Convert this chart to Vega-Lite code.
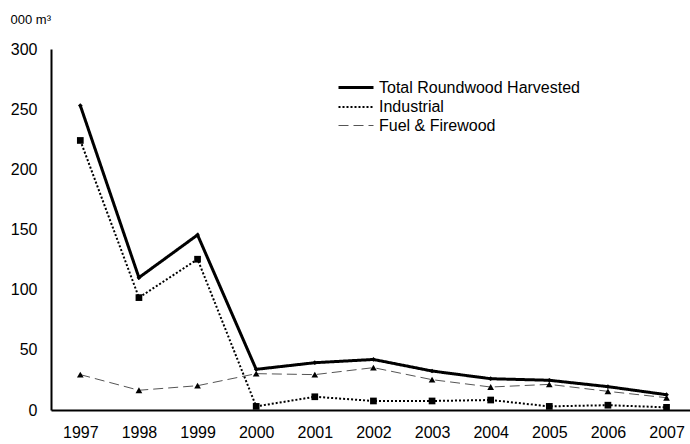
{
  "$schema": "https://vega.github.io/schema/vega-lite/v6.json",
  "width": 639,
  "height": 361,
  "autosize": {"type": "none"},
  "padding": {"left": 51, "top": 49, "right": 0, "bottom": 34},
  "background": "white",
  "config": {
    "font": "Liberation Sans",
    "view": {"stroke": null},
    "axis": {"grid": false, "ticks": false, "domainColor": "black", "domainWidth": 2, "labelColor": "black", "labelFont": "Liberation Sans"}
  },
  "data": {
    "values": [
      {"year": 1997, "series": "Total Roundwood Harvested", "value": 253},
      {"year": 1998, "series": "Total Roundwood Harvested", "value": 110},
      {"year": 1999, "series": "Total Roundwood Harvested", "value": 145.5},
      {"year": 2000, "series": "Total Roundwood Harvested", "value": 33.8},
      {"year": 2001, "series": "Total Roundwood Harvested", "value": 39.3},
      {"year": 2002, "series": "Total Roundwood Harvested", "value": 42},
      {"year": 2003, "series": "Total Roundwood Harvested", "value": 32.4},
      {"year": 2004, "series": "Total Roundwood Harvested", "value": 26},
      {"year": 2005, "series": "Total Roundwood Harvested", "value": 24.7},
      {"year": 2006, "series": "Total Roundwood Harvested", "value": 19.4},
      {"year": 2007, "series": "Total Roundwood Harvested", "value": 12.7},
      {"year": 1997, "series": "Industrial", "value": 224},
      {"year": 1998, "series": "Industrial", "value": 93.4},
      {"year": 1999, "series": "Industrial", "value": 125.3},
      {"year": 2000, "series": "Industrial", "value": 3},
      {"year": 2001, "series": "Industrial", "value": 11},
      {"year": 2002, "series": "Industrial", "value": 7.5},
      {"year": 2003, "series": "Industrial", "value": 7.5},
      {"year": 2004, "series": "Industrial", "value": 8.3},
      {"year": 2005, "series": "Industrial", "value": 3},
      {"year": 2006, "series": "Industrial", "value": 4},
      {"year": 2007, "series": "Industrial", "value": 2.2},
      {"year": 1997, "series": "Fuel & Firewood", "value": 29.4},
      {"year": 1998, "series": "Fuel & Firewood", "value": 16.4},
      {"year": 1999, "series": "Fuel & Firewood", "value": 20.2},
      {"year": 2000, "series": "Fuel & Firewood", "value": 30.2},
      {"year": 2001, "series": "Fuel & Firewood", "value": 29.4},
      {"year": 2002, "series": "Fuel & Firewood", "value": 35.2},
      {"year": 2003, "series": "Fuel & Firewood", "value": 25.2},
      {"year": 2004, "series": "Fuel & Firewood", "value": 19.1},
      {"year": 2005, "series": "Fuel & Firewood", "value": 21.3},
      {"year": 2006, "series": "Fuel & Firewood", "value": 15.5},
      {"year": 2007, "series": "Fuel & Firewood", "value": 10.2}
    ]
  },
  "encoding": {
    "x": {
      "field": "year", "type": "quantitative",
      "scale": {"domain": [1996.5, 2007.4], "nice": false, "zero": false},
      "axis": {"values": [1997,1998,1999,2000,2001,2002,2003,2004,2005,2006,2007], "format": "d", "title": null, "labelFontSize": 16, "labelPadding": 14, "labelFlush": false}
    },
    "y": {
      "field": "value", "type": "quantitative",
      "scale": {"domain": [0, 300], "nice": false},
      "axis": {"values": [0,50,100,150,200,250,300], "title": "000 m³", "titleAngle": 0, "titleAlign": "left", "titleBaseline": "alphabetic", "titleX": -41, "titleY": -26, "titleFontSize": 13, "titleFontWeight": "normal", "titleColor": "black", "labelFontSize": 16, "labelPadding": 14}
    }
  },
  "layer": [
    {
      "mark": {"type": "line"},
      "encoding": {
        "detail": {"field": "series"},
        "color": {
          "field": "series", "type": "nominal",
          "scale": {"domain": ["Total Roundwood Harvested", "Industrial", "Fuel & Firewood"], "range": ["black", "black", "#555555"]},
          "legend": {"orient": "none", "legendX": 293.5, "legendY": 27, "title": null, "labelFontSize": 16, "labelColor": "black", "labelLimit": 400, "symbolType": "M-1.75,0L1.75,0", "symbolSize": 400, "rowPadding": -4.5, "labelOffset": 11.5}
        },
        "strokeDash": {
          "field": "series", "type": "nominal",
          "scale": {"domain": ["Total Roundwood Harvested", "Industrial", "Fuel & Firewood"], "range": [[1, 0], [2, 2], [10, 5]]}
        },
        "strokeWidth": {
          "field": "series", "type": "nominal",
          "scale": {"domain": ["Total Roundwood Harvested", "Industrial", "Fuel & Firewood"], "range": [3, 1, 1]}
        }
      }
    },
    {
      "transform": [{"filter": "datum.series === 'Total Roundwood Harvested'"}],
      "mark": {"type": "point", "filled": true, "opacity": 1, "shape": "diamond", "size": 22, "color": "black"}
    },
    {
      "transform": [{"filter": "datum.series === 'Industrial'"}],
      "mark": {"type": "point", "filled": true, "opacity": 1, "shape": "square", "size": 45, "color": "black"}
    },
    {
      "transform": [{"filter": "datum.series === 'Fuel & Firewood'"}],
      "mark": {"type": "point", "filled": true, "opacity": 1, "shape": "triangle-up", "size": 45, "color": "black"}
    }
  ]
}
